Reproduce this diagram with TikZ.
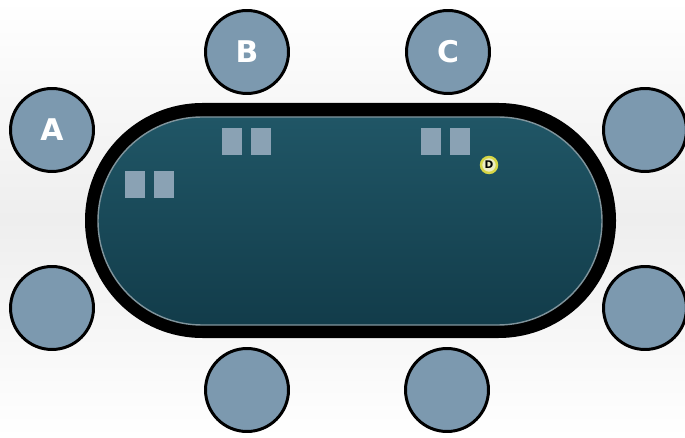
\documentclass[tikz,border=0pt]{standalone}
\usepackage{fontspec}
\setmainfont{DejaVu Sans}
\usetikzlibrary{positioning}
\definecolor{bgc}{RGB}{238,238,238}
\definecolor{feltc}{RGB}{32,86,102}
\definecolor{feltdark}{RGB}{18,60,74}
\definecolor{rimc}{RGB}{128,148,156}
\definecolor{seatc}{RGB}{124,153,175}
\definecolor{cardc}{RGB}{138,162,180}
\definecolor{btnring}{RGB}{214,214,70}
\definecolor{btnfill}{RGB}{236,236,196}
\tikzset{
  seat/.style={circle,draw=black,fill=seatc,line width=1.7pt,minimum size=1.66cm,inner sep=0pt,text=white,font=\bfseries\fontsize{17}{17}\selectfont},
  card/.style={rectangle,fill=cardc,minimum width=0.4cm,minimum height=0.54cm,inner sep=0pt},
  btn/.style={circle,draw=btnring,fill=btnfill,line width=1.4pt,minimum size=0.32cm,inner sep=0pt,font=\bfseries\fontsize{6}{6}\selectfont},
}

\begin{document}
\begin{tikzpicture}[x=0.02cm,y=-0.02cm]
  \useasboundingbox (0,0) rectangle (685,438);
  \shade[top color=white,bottom color=white,middle color=bgc] (0,0) rectangle (685,438);
  % table
  \fill[black,rounded corners=2.35cm] (85,103) rectangle (616,338);
  \shade[top color=feltc,bottom color=feltdark,rounded corners=2.08cm] (98,117) rectangle (602,325);
  \draw[rimc,line width=0.8pt,rounded corners=2.08cm] (98,117) rectangle (602,325);
  % seats
  \node[seat] (seatA) at (52,130) {A};
  \node[seat] (seatB) at (247,52) {B};
  \node[seat] (seatC) at (448,52) {C};
  \node[seat] (seatR1) at (645,130) {};
  \node[seat] (seatR2) at (645,308) {};
  \node[seat] (seatL2) at (52,308) {};
  \node[seat] (seatBot1) at (247,390) {};
  \node[seat] (seatBot2) at (447,390) {};
  % hole cards
  \node[card] (cardA1) at (135,185) {};
  \node[card,right=0.16cm of cardA1] (cardA2) {};
  \node[card] (cardB1) at (232,142) {};
  \node[card,right=0.16cm of cardB1] (cardB2) {};
  \node[card] (cardC1) at (431,142) {};
  \node[card,right=0.16cm of cardC1] (cardC2) {};
  % dealer button
  \node[btn] (dealer) at (489,165) {D};
\end{tikzpicture}
\end{document}
